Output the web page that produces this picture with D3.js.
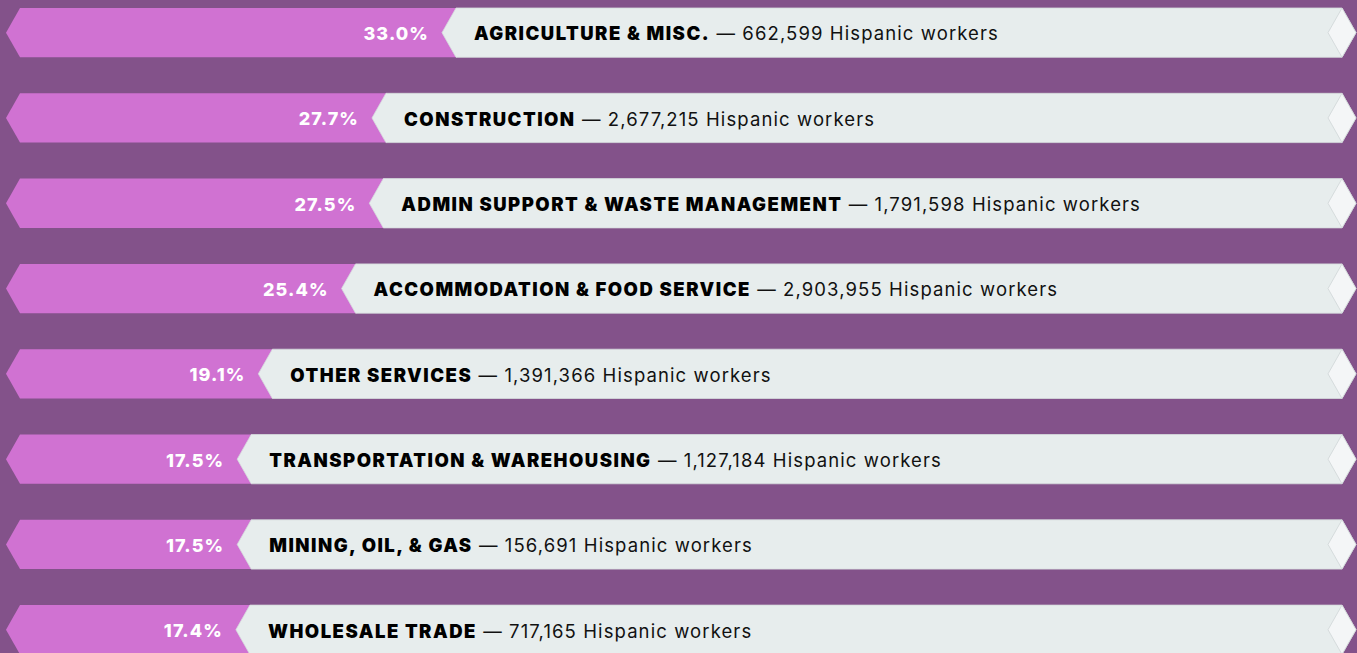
<!DOCTYPE html>
<meta charset="utf-8">
<style>
body { margin: 0; background: #83528a; overflow: hidden; }
text { font-family: Inter, "Noto Sans", sans-serif; }
.pct { fill: #fff; font-weight: 800; font-size: 18px; letter-spacing: 1.1px; }
.cat { fill: #000; font-weight: 900; font-size: 18.5px; letter-spacing: 1.5px; }
.num { fill: #111; font-weight: 400; font-size: 18.5px; letter-spacing: 1.1px; }
</style>
<svg width="1357" height="653"></svg>
<script src="https://d3js.org/d3.v7.min.js"></script>
<script>

var industries = ["AGRICULTURE & MISC.", "CONSTRUCTION", "ADMIN SUPPORT & WASTE MANAGEMENT",
  "ACCOMMODATION & FOOD SERVICE", "OTHER SERVICES", "TRANSPORTATION & WAREHOUSING",
  "MINING, OIL, & GAS", "WHOLESALE TRADE"];
var shares = [33.0, 27.7, 27.5, 25.4, 19.1, 17.5, 17.5, 17.4];
var workers = [662599, 2677215, 1791598, 2903955, 1391366, 1127184, 156691, 717165];

var data = industries.map(function(d, i) {
  return { name: d, share: shares[i], workers: workers[i] };
});

var svg = d3.select("svg"),
    width = +svg.attr("width");

var rowH = 49.3, step = 85.3, top0 = 8, notch = 14;
var left = 6, right = width - 1;

var x = d3.scaleLinear().domain([0, 33]).range([left, 442]);
// rows: one every 85px, 49px tall
var y = d3.scaleLinear().domain([0, industries.length]).range([top0, top0 + step * industries.length]);

var fmt = d3.format(",");

var row = svg.selectAll("g.row")
  .data(data)
  .enter().append("g")
    .attr("class", "row")
    .attr("transform", function(d, i) { return "translate(0," + y(i) + ")"; });

var h = rowH, cy = rowH / 2;

// pink part
row.append("path")
  .attr("fill", "#d072d2")
  .attr("d", function(d) {
    var e = x(d.share) + notch + 1;
    return "M" + left + "," + cy + "L" + (left + notch) + ",0L" + e + ",0L" + e + "," + h +
      "L" + (left + notch) + "," + h + "Z";
  });

// grey part
row.append("path")
  .attr("fill", "#e7eded")
  .attr("stroke", "#d6dcdd")
  .attr("stroke-width", 0.8)
  .attr("d", function(d) {
    var t = x(d.share);
    return "M" + t + "," + cy + "L" + (t + notch) + ",0L" + (right - notch) + ",0L" + right + "," + cy +
      "L" + (right - notch) + "," + h + "L" + (t + notch) + "," + h + "Z";
  });

// light end cap
row.append("path")
  .attr("fill", "#f4f6f7")
  .attr("stroke", "#cfd5d7")
  .attr("stroke-width", 0.8)
  .attr("d", "M" + (right - 2 * notch) + "," + cy + "L" + (right - notch) + ",0L" + right + "," + cy +
    "L" + (right - notch) + "," + h + "Z");

row.append("text")
  .attr("class", "pct")
  .attr("x", function(d) { return x(d.share) - 13; })
  .attr("y", cy + 7.5)
  .attr("text-anchor", "end")
  .text(function(d) { return d.share.toFixed(1) + "%"; });

var lab = row.append("text")
  .attr("x", function(d) { return x(d.share) + 32; })
  .attr("y", cy + 7.8);

lab.append("tspan")
  .attr("class", "cat")
  .text(function(d) { return d.name; });

lab.append("tspan")
  .attr("class", "num")
  .text(function(d) { return " \u2014 " + fmt(d.workers) + " Hispanic workers"; });

</script>
